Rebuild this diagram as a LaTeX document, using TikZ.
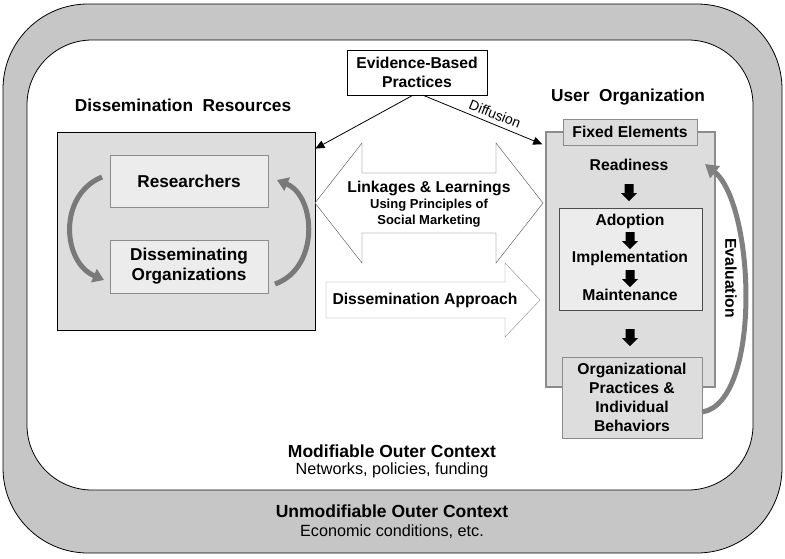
\documentclass[tikz,border=0pt]{standalone}
\usepackage{fontspec}
\setmainfont{Liberation Sans}
\usetikzlibrary{arrows.meta,positioning}
\definecolor{ringgray}{RGB}{198,198,198}
\definecolor{boxgray}{RGB}{221,221,221}
\definecolor{lightbox}{RGB}{236,236,236}
\definecolor{edgegray}{RGB}{140,140,140}
\begin{document}
\begin{tikzpicture}[x=1pt, y=-1pt,
    box/.style = {draw, inner sep=0pt, align=center, font=\fontsize{15.7}{19}\selectfont\bfseries},
    inbox/.style = {box, draw=edgegray, fill=lightbox},
    lbl/.style = {inner sep=0pt, align=center, font=\fontsize{15.7}{19}\selectfont\bfseries},
    title/.style = {lbl, font=\fontsize{17.3}{20}\selectfont\bfseries},
    note/.style = {inner sep=0pt, align=center, font=\fontsize{16.2}{19}\selectfont},
    cyc/.style = {draw=gray!95!black, line width=5pt, -{Triangle[length=11pt,width=14pt]}},
    blkdown/.pic = {\fill[black] (-4.5,-9) -- (4.5,-9) -- (4.5,0) -- (8,0) -- (0,8) -- (-8,0) -- (-4.5,0) -- cycle;}]
\useasboundingbox (0,0) rectangle (785,558);
% context rings
\draw[thick, fill=ringgray, rounded corners=85pt] (3,4) rectangle (782,553);
\draw[thick, fill=white, rounded corners=65pt] (27,40) rectangle (753,490);
\node[title, font=\fontsize{17.5}{20}\selectfont\bfseries] (mod) at (392,451) {Modifiable Outer Context};
\node[note] (modsub) at (392,470) {Networks, policies, funding};
\node[title, font=\fontsize{17.5}{20}\selectfont\bfseries] (unmod) at (392,511) {Unmodifiable Outer Context};
\node[note] (unmodsub) at (392,532) {Economic conditions, etc.};
% evidence
\node[box, fill=white, minimum width=140pt, minimum height=45pt] (ebp) at (417,72.5) {Evidence-Based\\Practices};
% dissemination resources
\node[title] (drtitle) at (183,105) {Dissemination\ \ Resources};
\node[box, fill=boxgray, thick, minimum width=258pt, minimum height=198pt] (dr) at (186,231) {};
\node[inbox, font=\fontsize{17.2}{20}\selectfont\bfseries, minimum width=158pt, minimum height=52pt] (res) at (189,181) {Researchers};
\node[inbox, font=\fontsize{17.2}{20}\selectfont\bfseries, minimum width=158pt, minimum height=53pt] (dorg) at (189,266.5) {Disseminating\\Organizations};
\draw[cyc] (102,177) .. controls (58,195) and (62,262) .. (104,280);
\draw[cyc] (275,284) .. controls (320,268) and (316,196) .. (277,180);
% user organization
\node[title] (uotitle) at (628,97) {User\ \ Organization};
\node[box, draw=edgegray, line width=1.5pt, fill=boxgray, minimum width=169pt, minimum height=255pt] (uo) at (630.5,259.5) {};
\node[box, fill=boxgray, draw=edgegray, minimum width=134pt, minimum height=26pt] (fixed) at (630,132) {Fixed Elements};
\node[lbl] (ready) at (629,165) {Readiness};
\pic at (629,193) {blkdown};
\node[inbox, draw=black!70, minimum width=143pt, minimum height=102pt] (aim) at (630.5,259) {};
\node[lbl] (adopt) at (630,221) {Adoption};
\pic at (630,241) {blkdown};
\node[lbl] (impl) at (630,258) {Implementation};
\pic at (630,279) {blkdown};
\node[lbl] (maint) at (630,295) {Maintenance};
\pic at (630,338) {blkdown};
\node[box, draw=edgegray, fill=boxgray, minimum width=140pt, minimum height=81pt] (opib) at (632,397.5) {Organizational\\Practices \&\\Individual\\Behaviors};
\draw[draw=gray, line width=5pt, -{Triangle[length=13pt,width=15pt]}] (opib.east |- 0,412) .. controls (762,402) and (755,205) .. (705,164);
\node[lbl, rotate=-90] (eval) at (731,278) {Evaluation};
% linkages
\draw[draw=black!70, fill=white] (315,203) -- (362,143) -- (362,173) -- (496,173) -- (496,143) -- (543,203)
  -- (496,263) -- (496,233) -- (362,233) -- (362,263) -- cycle;
\node[lbl] (link) at (429,188) {Linkages \& Learnings};
\node[inner sep=0pt, align=center, font=\fontsize{13}{16}\selectfont\bfseries, below=3pt of link] (social) {Using Principles of\\Social Marketing};
\draw[draw=edgegray, fill=white] (326,282) -- (505,282) -- (505,263) -- (540,300) -- (505,337) -- (505,318) -- (326,318) -- cycle;
\node[lbl] (appr) at (425,300) {Dissemination Approach};
% diffusion
\draw[thick, -{Triangle[length=9pt,width=8pt]}] ([xshift=-4pt]ebp.south) -- ([yshift=-17pt]dr.north east);
\draw[thick, -{Triangle[length=9pt,width=8pt]}] ([xshift=6pt]ebp.south) -- ([xshift=-3pt,yshift=-13pt]uo.north west);
\node[note, font=\fontsize{14}{16}\selectfont, rotate=-22] (diff) at (495,114) {Diffusion};
\end{tikzpicture}
\end{document}
